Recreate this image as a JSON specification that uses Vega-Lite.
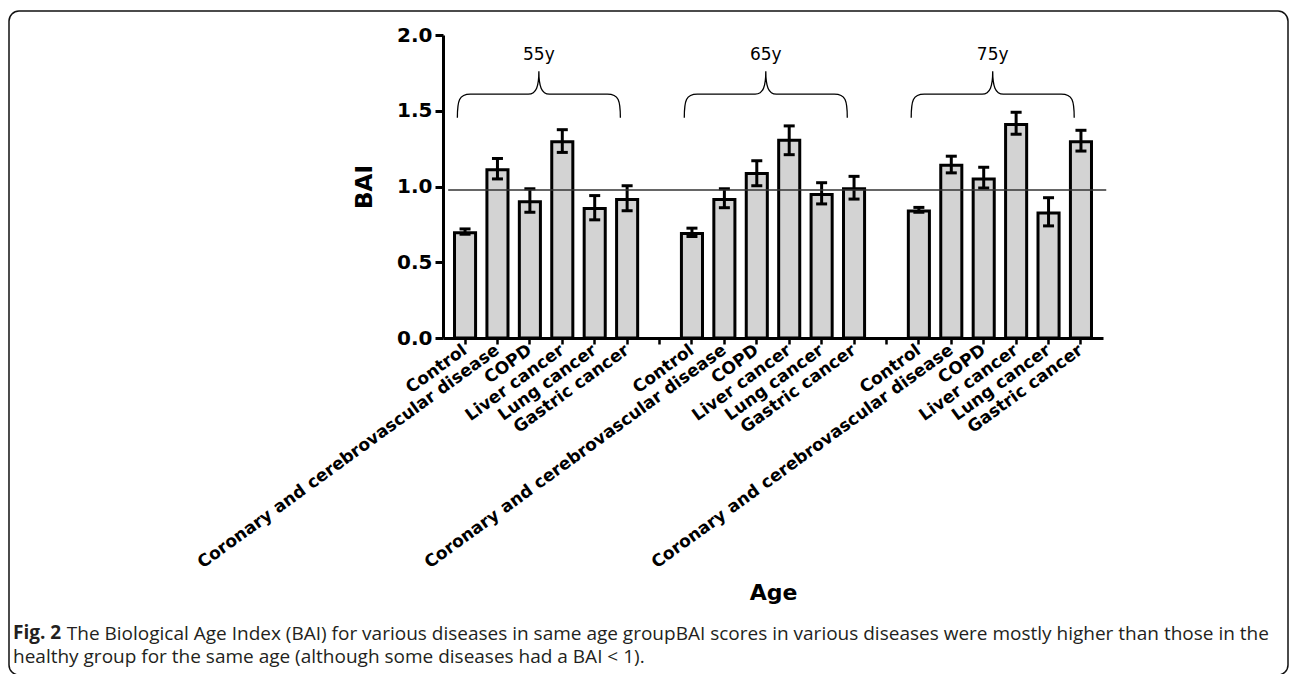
{
  "$schema": "https://vega.github.io/schema/vega-lite/v6.json",
  "width": 1279,
  "height": 664,
  "autosize": {"type": "none"},
  "padding": {"left": 9, "top": 11, "right": 7, "bottom": -1},
  "background": "white",
  "config": {"view": {"stroke": "#111111", "strokeWidth": 1.5, "cornerRadius": 10}, "font": "DejaVu Sans"},
  "title": {
    "text": "Fig. 2",
    "subtitle": ["\u200b\u2003\u2003\u2002\u2009\u2009The Biological Age Index (BAI) for various diseases in same age groupBAI scores in various diseases were mostly higher than those in the", "healthy group for the same age (although some diseases had a BAI < 1)."],
    "orient": "bottom",
    "anchor": "start",
    "frame": "group",
    "dx": 4,
    "offset": -51,
    "font": "Open Sans",
    "fontSize": 19,
    "fontWeight": "bold",
    "color": "#231f20",
    "subtitleFont": "Open Sans",
    "subtitleFontSize": 19,
    "subtitleColor": "#231f20",
    "subtitleLineHeight": 23,
    "subtitlePadding": -18
  },
  "datasets": {
    "bars": [
      {"key": "55|Control", "bai": 0.695, "lo": 0.685, "hi": 0.72},
      {"key": "55|Coronary and cerebrovascular disease", "bai": 1.11, "lo": 1.05, "hi": 1.185},
      {"key": "55|COPD", "bai": 0.90, "lo": 0.83, "hi": 0.985},
      {"key": "55|Liver cancer", "bai": 1.295, "lo": 1.225, "hi": 1.375},
      {"key": "55|Lung cancer", "bai": 0.855, "lo": 0.78, "hi": 0.94},
      {"key": "55|Gastric cancer", "bai": 0.915, "lo": 0.84, "hi": 1.005},
      {"key": "65|Control", "bai": 0.69, "lo": 0.67, "hi": 0.725},
      {"key": "65|Coronary and cerebrovascular disease", "bai": 0.915, "lo": 0.86, "hi": 0.985},
      {"key": "65|COPD", "bai": 1.085, "lo": 1.005, "hi": 1.17},
      {"key": "65|Liver cancer", "bai": 1.305, "lo": 1.21, "hi": 1.40},
      {"key": "65|Lung cancer", "bai": 0.947, "lo": 0.885, "hi": 1.025},
      {"key": "65|Gastric cancer", "bai": 0.985, "lo": 0.917, "hi": 1.067},
      {"key": "75|Control", "bai": 0.838, "lo": 0.83, "hi": 0.862},
      {"key": "75|Coronary and cerebrovascular disease", "bai": 1.14, "lo": 1.09, "hi": 1.20},
      {"key": "75|COPD", "bai": 1.05, "lo": 0.99, "hi": 1.127},
      {"key": "75|Liver cancer", "bai": 1.41, "lo": 1.345, "hi": 1.49},
      {"key": "75|Lung cancer", "bai": 0.825, "lo": 0.74, "hi": 0.926},
      {"key": "75|Gastric cancer", "bai": 1.295, "lo": 1.234, "hi": 1.371}
    ],
    "braces": [
      {"key": "55|COPD", "label": "55y", "yb": 1.61, "yt": 1.868},
      {"key": "65|COPD", "label": "65y", "yb": 1.61, "yt": 1.868},
      {"key": "75|COPD", "label": "75y", "yb": 1.61, "yt": 1.868}
    ],
    "ref": [{"bai": 0.977, "from": "55|Control", "to": "75|Gastric cancer"}]
  },
  "encoding": {
    "x": {
      "field": "key",
      "type": "nominal",
      "sort": null,
      "scale": {
        "domain": ["55|Control", "55|Coronary and cerebrovascular disease", "55|COPD", "55|Liver cancer", "55|Lung cancer", "55|Gastric cancer", "gap1",
                   "65|Control", "65|Coronary and cerebrovascular disease", "65|COPD", "65|Liver cancer", "65|Lung cancer", "65|Gastric cancer", "gap2",
                   "75|Control", "75|Coronary and cerebrovascular disease", "75|COPD", "75|Liver cancer", "75|Lung cancer", "75|Gastric cancer"],
        "range": [434, 1094],
        "paddingInner": 0.35,
        "paddingOuter": 0.355
      },
      "axis": {
        "offset": -337,
        "title": "Age",
        "titleFont": "DejaVu Sans",
        "titleFontSize": 22,
        "titleFontWeight": "bold",
        "titleColor": "black",
        "titlePadding": 44,
        "labelExpr": "indexof(datum.value, '|') > 0 ? split(datum.value, '|')[1] : ''",
        "labelAngle": -36,
        "labelAlign": "right",
        "labelBaseline": "middle",
        "labelFont": "DejaVu Sans",
        "labelFontSize": 17,
        "labelFontWeight": "bold",
        "labelColor": "black",
        "labelPadding": 4,
        "labelLimit": 0,
        "labelOverlap": false,
        "domainColor": "black",
        "domainWidth": 3,
        "tickColor": "black",
        "tickWidth": 2.5,
        "tickSize": 6
      }
    },
    "y": {
      "field": "bai",
      "type": "quantitative",
      "scale": {"domain": [0, 2], "nice": false, "range": [327, 24]},
      "axis": {
        "offset": -434,
        "title": "BAI",
        "titleFont": "DejaVu Sans",
        "titleFontSize": 23,
        "titleFontWeight": "bold",
        "titleColor": "black",
        "titlePadding": 20,
        "values": [0, 0.5, 1, 1.5, 2],
        "format": ".1f",
        "labelFont": "DejaVu Sans",
        "labelFontSize": 20,
        "labelFontWeight": "bold",
        "labelColor": "black",
        "labelPadding": 3,
        "domainColor": "black",
        "domainWidth": 3,
        "tickColor": "black",
        "tickWidth": 3,
        "tickSize": 8,
        "grid": false
      }
    }
  },
  "layer": [
    {
      "data": {"name": "bars"},
      "mark": {"type": "bar", "fill": "#d3d3d3", "stroke": "black", "strokeWidth": 3}
    },
    {
      "data": {"name": "bars"},
      "mark": {"type": "rule", "color": "black", "strokeWidth": 3},
      "encoding": {
        "y": {"field": "lo", "type": "quantitative"},
        "y2": {"field": "hi"}
      }
    },
    {
      "data": {"name": "bars"},
      "mark": {"type": "tick", "color": "black", "size": 11, "thickness": 3, "opacity": 1},
      "encoding": {"y": {"field": "lo", "type": "quantitative"}}
    },
    {
      "data": {"name": "bars"},
      "mark": {"type": "tick", "color": "black", "size": 11, "thickness": 3, "opacity": 1},
      "encoding": {"y": {"field": "hi", "type": "quantitative"}}
    },
    {
      "data": {"name": "ref"},
      "mark": {"type": "rule", "color": "#333333", "strokeWidth": 1.5},
      "encoding": {
        "x": {"field": "from", "type": "nominal", "bandPosition": -0.3},
        "x2": {"field": "to", "bandPosition": 1.7},
        "y": {"field": "bai", "type": "quantitative"}
      }
    },
    {
      "data": {"name": "braces"},
      "mark": {
        "type": "point",
        "shape": "M-1 0.29 C-1 0.08 -0.98 0 -0.84 0 L-0.13 0 C-0.03 0 0 -0.1 0 -0.28 C0 -0.1 0.03 0 0.13 0 L0.84 0 C0.98 0 1 0.08 1 0.29",
        "size": 26569,
        "filled": false,
        "stroke": "black",
        "strokeWidth": 1.3,
        "opacity": 1,
        "xOffset": 9
      },
      "encoding": {"y": {"field": "yb", "type": "quantitative"}}
    },
    {
      "data": {"name": "braces"},
      "mark": {"type": "text", "font": "DejaVu Sans", "fontSize": 17, "color": "black", "baseline": "middle", "xOffset": 9},
      "encoding": {
        "y": {"field": "yt", "type": "quantitative"},
        "text": {"field": "label"}
      }
    }
  ]
}
